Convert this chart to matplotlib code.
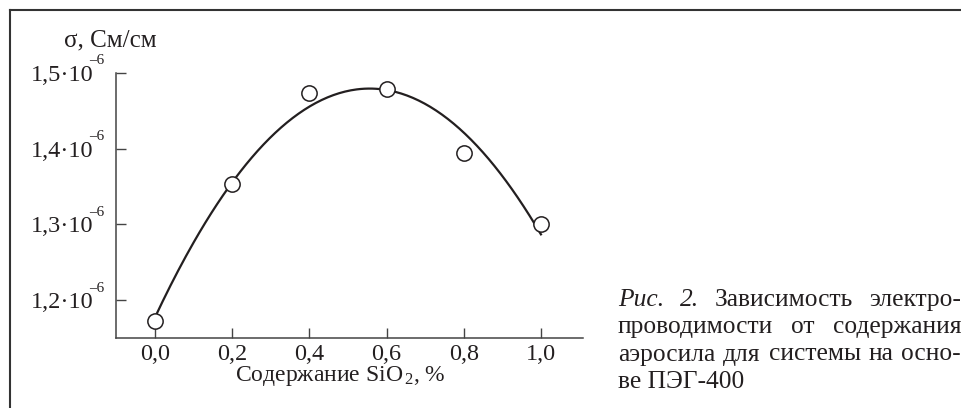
import numpy as np
import matplotlib
matplotlib.use('Agg')
import matplotlib.pyplot as plt
from matplotlib.lines import Line2D

plt.rcParams['font.family'] = ['Liberation Serif', 'DejaVu Serif']
plt.rcParams['mathtext.fontset'] = 'custom'
plt.rcParams['mathtext.rm'] = 'Liberation Serif'
plt.rcParams['mathtext.it'] = 'Liberation Serif:italic'

INK = '#231F20'

# data
sio2 = [0.0, 0.2, 0.4, 0.6, 0.8, 1.0]
sigma = [1.173, 1.353, 1.474, 1.479, 1.394, 1.301]   # x 10^-6 S/cm

x_ticks = [0.0, 0.2, 0.4, 0.6, 0.8, 1.0]
x_tick_labels = ['0,0', '0,2', '0,4', '0,6', '0,8', '1,0']
y_ticks = [1.2, 1.3, 1.4, 1.5]
y_tick_labels = ['1,2·10', '1,3·10', '1,4·10', '1,5·10']
y_exponent = '–6'

caption_lines = [
    [('Рис.', 'italic'), ('2.', 'italic'), ('Зависимость', 'normal'), ('электро-', 'normal')],
    [('проводимости', 'normal'), ('от', 'normal'), ('содержания', 'normal')],
    [('аэросила', 'normal'), ('для', 'normal'), ('системы', 'normal'), ('на', 'normal'), ('осно-', 'normal')],
    [('ве ПЭГ-400', 'normal')],
]

W, H = 961, 408
fig = plt.figure(figsize=(W / 100, H / 100), dpi=100)
ax = fig.add_axes([116 / W, 1 - 338 / H, (583 - 116) / W, (338 - 73) / H])

# quadratic trend through the points
coef = np.polyfit(sio2, sigma, 2)
xs = np.linspace(0.0, 1.0, 200)
ax.plot(xs, np.polyval(coef, xs), color=INK, linewidth=1.6, zorder=2)
ax.plot(sio2, sigma, linestyle='none', marker='o', markersize=11,
        markerfacecolor='white', markeredgecolor=INK, markeredgewidth=1.1, zorder=3)

ax.set_xlim(-0.101, 1.109)
ax.set_ylim(1.15, 1.5)
ax.set_xticks(x_ticks)
ax.set_xticklabels(x_tick_labels)
ax.set_yticks(y_ticks)
ax.set_yticklabels(y_tick_labels)
ax.tick_params(direction='in', length=7, width=1.0, colors='#444444',
               labelcolor=INK, labelsize=17.5)
ax.tick_params(axis='y', pad=16.5)
ax.tick_params(axis='x', pad=4)
for side in ['top', 'right']:
    ax.spines[side].set_visible(False)
for side in ['left', 'bottom']:
    ax.spines[side].set_color('#444444')
    ax.spines[side].set_linewidth(1.1)

# raised exponent next to each y tick label
ytrans = ax.get_yaxis_transform()
for yt in y_ticks:
    ax.annotate(y_exponent, xy=(0, yt), xycoords=ytrans, xytext=(-8.5, 4.0),
                textcoords='offset points', ha='right', va='bottom',
                fontsize=11, color=INK, annotation_clip=False)

fig.text(64 / W, 1 - 46 / H, 'σ, См/см', fontsize=18, color=INK, ha='left', va='baseline')
fig.text(340 / W, 1 - 381 / H, 'Содержание SiO$_{\\,2}$, %', fontsize=17, color=INK,
         ha='center', va='baseline')

# frame lines (left and top)
fig.add_artist(Line2D([10 / W, 10 / W], [0, 1 - 10 / H], transform=fig.transFigure,
                      color='#333333', linewidth=1.5))
fig.add_artist(Line2D([10 / W, 1], [1 - 10 / H, 1 - 10 / H], transform=fig.transFigure,
                      color='#333333', linewidth=1.5))

# justified caption
fig.canvas.draw()
renderer = fig.canvas.get_renderer()
x0, x1 = 618, 961
baselines = [306, 333, 360.5, 388]
for words, yb in zip(caption_lines, baselines):
    texts = [fig.text(0, 1 - yb / H, w, fontsize=18.4, style=s, color=INK,
                      ha='left', va='baseline') for w, s in words]
    widths = [t.get_window_extent(renderer).width for t in texts]
    if len(texts) > 1:
        gap = (x1 - x0 - sum(widths)) / (len(texts) - 1)
    else:
        gap = 0
    x = x0
    for t, wd in zip(texts, widths):
        t.set_x(x / W)
        x += wd + gap

fig.savefig('out.png', dpi=100)
